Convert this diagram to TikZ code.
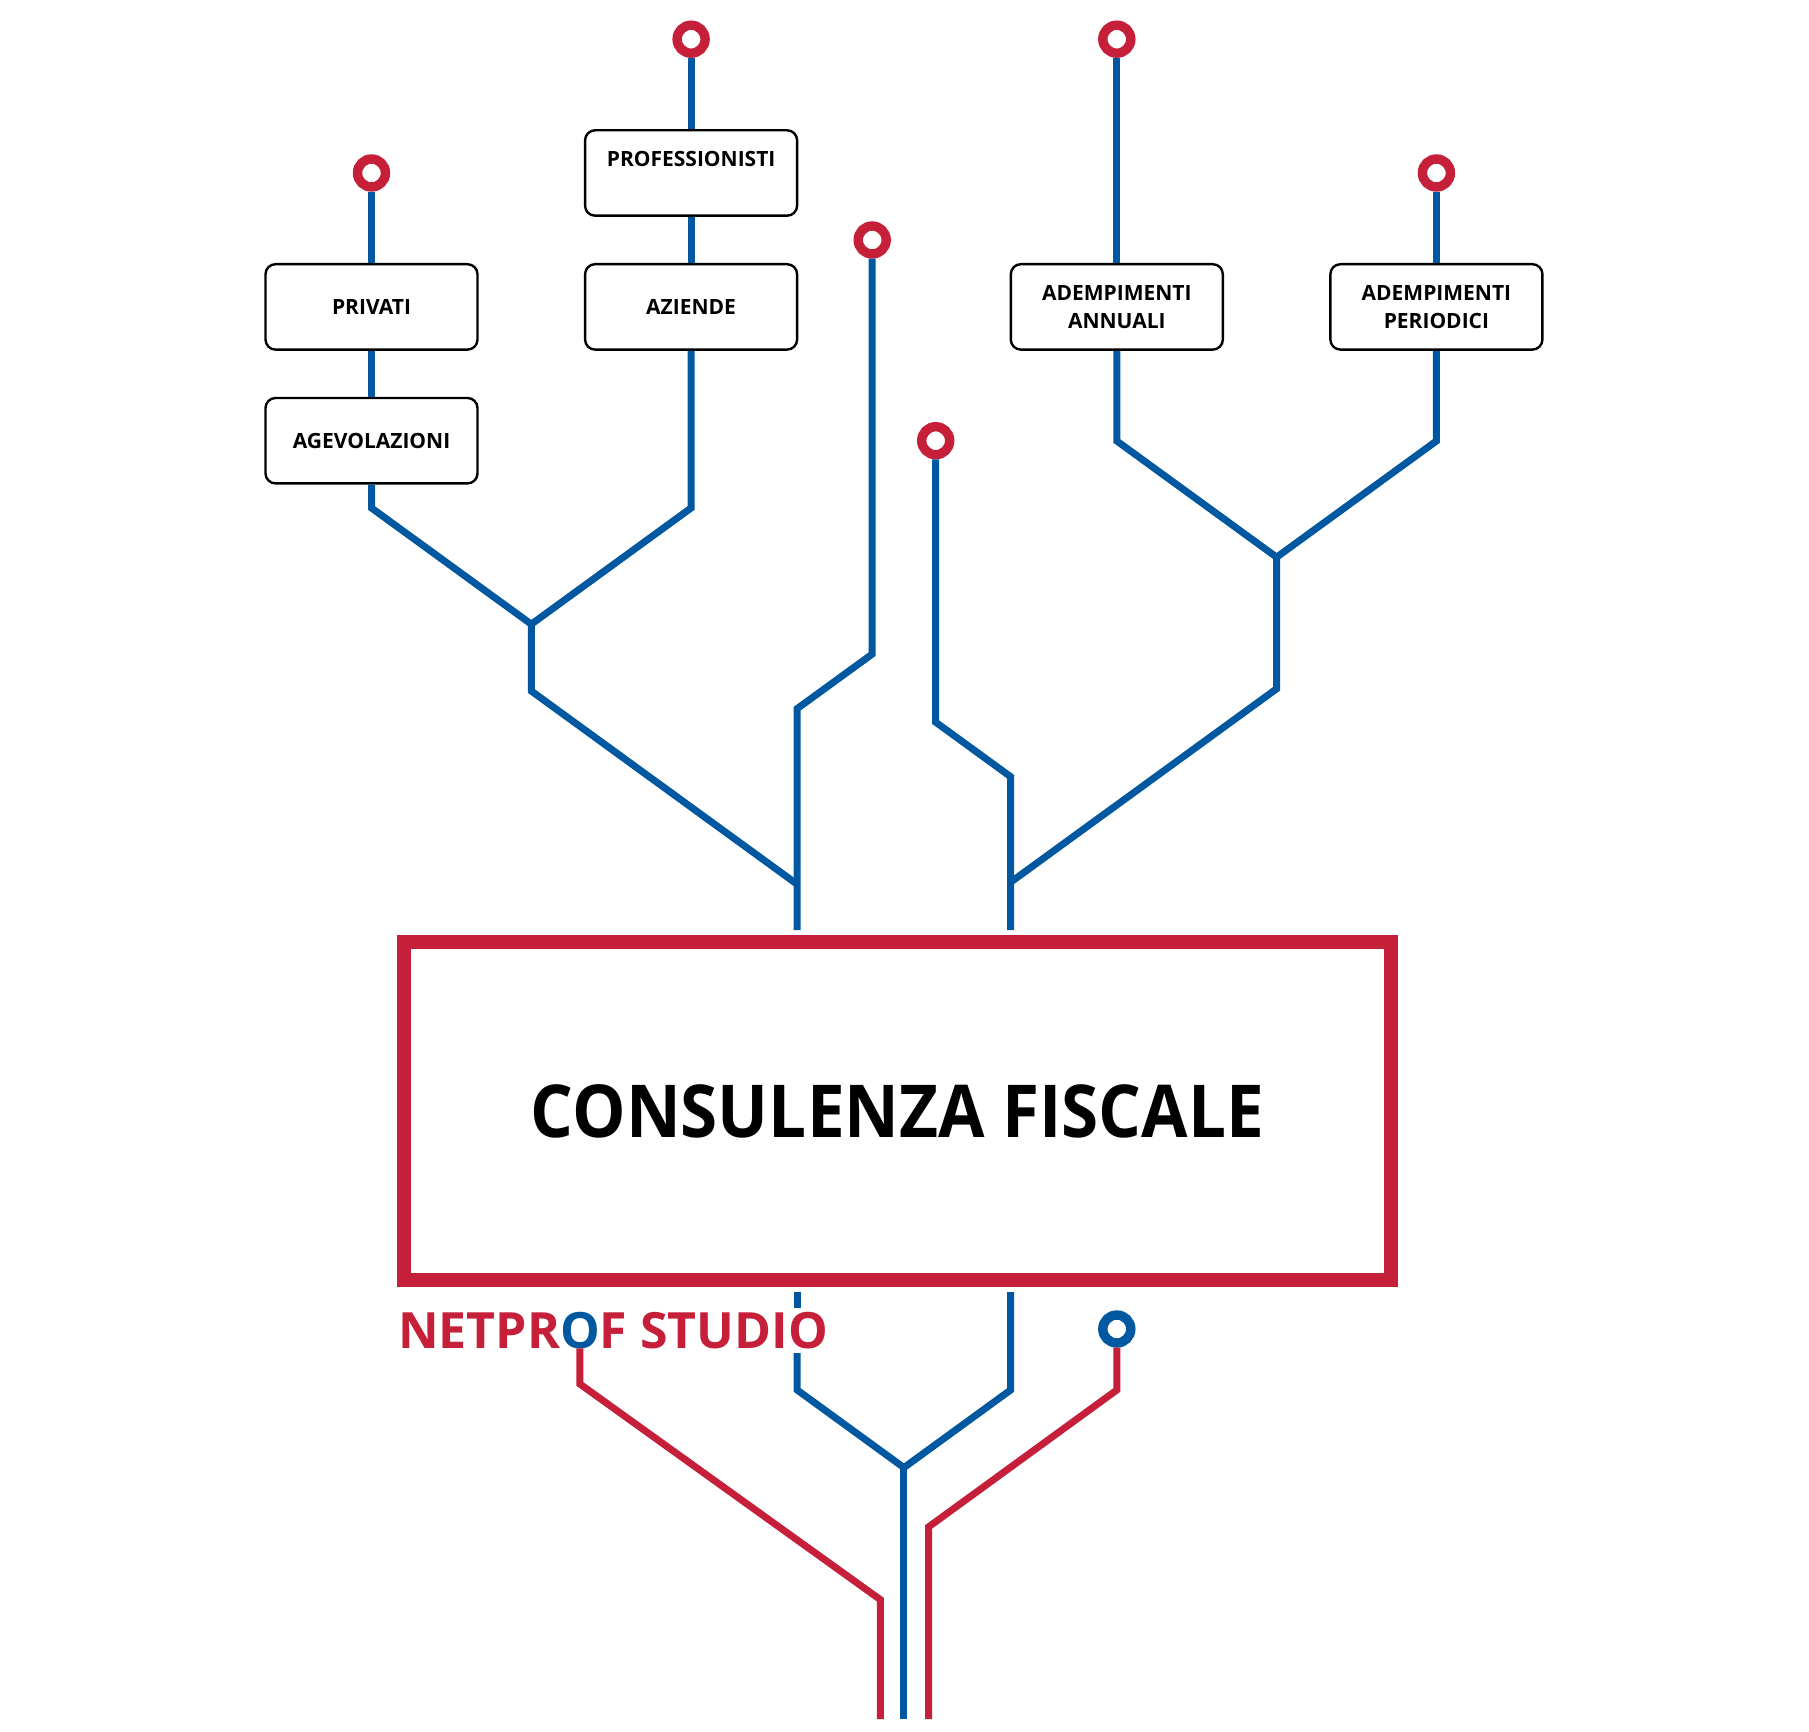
\documentclass[tikz,border=0pt]{standalone}
\usepackage{fontspec}
\usepackage{graphicx}
\setmainfont{Open Sans}
\definecolor{nred}{RGB}{197,31,58}
\definecolor{nblue}{RGB}{0,88,160}
\begin{document}
\begin{tikzpicture}[x=0.5pt,y=-0.5pt, line join=miter,
  bline/.style={draw=nblue,line width=3.5pt},
  rline/.style={draw=nred,line width=3.5pt},
  ring/.style={circle,draw=nred,line width=4.7pt,fill=white,minimum size=14pt,inner sep=0pt},
  bring/.style={ring,draw=nblue},
  box/.style={draw=black,line width=1.2pt,rounded corners=5pt,fill=white,minimum width=106pt,minimum height=42.7pt,inner sep=0pt,align=center,font=\bfseries\fontsize{10.5}{14}\selectfont},
  brand/.style={anchor=base west,inner sep=0pt,outer sep=0pt,font=\bfseries\fontsize{25}{30}\selectfont},
]
\useasboundingbox (0,0) rectangle (1809,1732);
% rings
\node[ring] (r1) at (371.5,173) {};
\node[ring] (r2) at (691.1,39.2) {};
\node[ring] (r3) at (872.2,240) {};
\node[ring] (r4) at (935.7,440.7) {};
\node[ring] (r5) at (1116.8,39.2) {};
\node[ring] (r6) at (1436.4,173) {};
% boxes
\node[box] (priv) at (371.5,306.9) {PRIVATI};
\node[box] (agev) at (371.5,440.7) {AGEVOLAZIONI};
\node[box] (prof) at (691.1,173) {PROFESSIONISTI\\\mbox{}};
\node[box] (az) at (691.1,306.9) {AZIENDE};
\node[box] (ann) at (1116.8,306.9) {ADEMPIMENTI\\ANNUALI};
\node[box] (per) at (1436.4,306.9) {ADEMPIMENTI\\PERIODICI};
% main
\node[draw=nred,line width=7pt,minimum width=493.5pt,minimum height=169pt,inner sep=0pt,
  font=\bfseries\fontsize{36.5}{44}\selectfont] (main) at (897.5,1111) {\scalebox{0.923}[1]{CONSULENZA FISCALE}};
% brand
\node[brand,text=nred] (t1) at (398,1348) {NETPR};
\node[brand,text=nblue] (tO) at (t1.base east) {O};
\node[brand,text=nred] (t2) at (tO.base east) {F STUDIO};
% coordinates
\coordinate (a1) at (371.5,508);
\coordinate (a2) at (691.1,508);
\coordinate (j1) at (531.3,624.2);
\coordinate (j1b) at (531.3,691);
\coordinate (m1) at (797.2,884.3);
\coordinate (c1) at (872.2,654.1);
\coordinate (c2) at (797.2,708.6);
\coordinate (c3) at (797.2,930);
\coordinate (d1) at (935.7,722.2);
\coordinate (d2) at (1010.6,776.7);
\coordinate (d3) at (1010.6,930);
\coordinate (e1) at (1116.8,441);
\coordinate (e2) at (1436.4,441);
\coordinate (j2) at (1276.6,557.2);
\coordinate (j2b) at (1276.6,688.8);
\coordinate (m2) at (1010.6,882.2);
% upper connectors
\draw[bline] (r1) -- (priv);
\draw[bline] (priv) -- (agev);
\draw[bline] (agev) -- (a1) -- (j1) -- (j1b) -- (m1);
\draw[bline] (r2) -- (prof);
\draw[bline] (prof) -- (az);
\draw[bline] (az) -- (a2) -- (j1);
\draw[bline] (r3) -- (c1) -- (c2) -- (c3);
\draw[bline] (r4) -- (d1) -- (d2) -- (d3);
\draw[bline] (r5) -- (ann);
\draw[bline] (ann) -- (e1) -- (j2) -- (j2b) -- (m2);
\draw[bline] (r6) -- (per);
\draw[bline] (per) -- (e2) -- (j2);
% lower part
\node[bring] (r7) at (1116.8,1329) {};
\coordinate (bL0) at (797.2,1292);
\coordinate (bLg1) at (797.2,1308);
\coordinate (bLg2) at (797.2,1353);
\coordinate (bL1) at (797.2,1390);
\coordinate (bR0) at (1010.6,1292);
\coordinate (bR1) at (1010.6,1390);
\coordinate (bJ) at (903.9,1467.6);
\coordinate (bEnd) at (903.9,1719);
\coordinate (rl1) at (583.8,1384);
\coordinate (rl2) at (880.3,1599.6);
\coordinate (rl3) at (880.3,1719);
\coordinate (rr1) at (1116.8,1390);
\coordinate (rr2) at (928.7,1526.8);
\coordinate (rr3) at (928.7,1719);
\draw[bline] (bL0) -- (bLg1);
\draw[bline] (bLg2) -- (bL1) -- (bJ);
\draw[bline] (bR0) -- (bR1) -- (bJ);
\draw[bline] (bJ) -- (bEnd);
\draw[rline] (tO.south) -- (tO.south |- rl1) -- (rl2) -- (rl3);
\draw[rline] (r7) -- (rr1) -- (rr2) -- (rr3);
\end{tikzpicture}
\end{document}
